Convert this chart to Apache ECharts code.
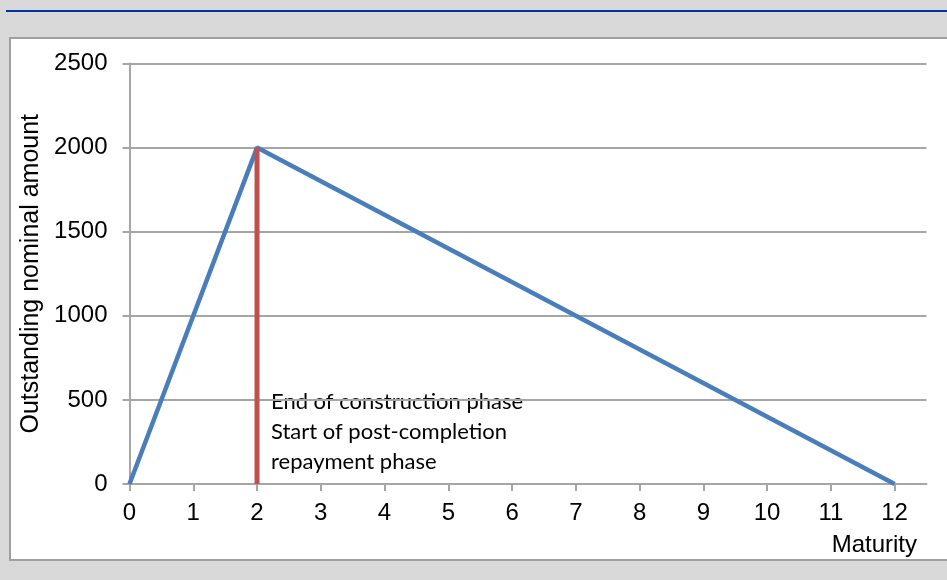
<!DOCTYPE html>
<html>
<head>
<meta charset="utf-8">
<script src="https://cdn.jsdelivr.net/npm/echarts@6/dist/echarts.min.js"></script>
<style>
html, body {
  margin: 0;
  padding: 0;
  width: 947px;
  height: 580px;
  overflow: hidden;
  background: #d9d9d9;
}
.topline {
  position: absolute;
  left: 6px;
  right: 0;
  top: 10px;
  height: 2px;
  background: #0033a0;
}
.panel {
  position: absolute;
  left: 9px;
  top: 37px;
  right: -10px;
  bottom: 19px;
  background: #fff;
  border: 2px solid #a0a0a0;
}
#main {
  position: absolute;
  left: 0;
  top: 0;
  width: 947px;
  height: 580px;
}
</style>
</head>
<body>
<div class="topline"></div>
<div class="panel"></div>
<div id="main"></div>
<script>
// maturity (years) vs outstanding nominal amount
var xTicks = [0, 1, 2, 3, 4, 5, 6, 7, 8, 9, 10, 11, 12]
var amortization = [[0, 0], [2, 2000], [12, 0]]
var constructionEnd = [[2, 0], [2, 2000]]
var noteLines = ['End of construction phase', 'Start of post-completion', 'repayment phase']

var myChart = echarts.init(document.getElementById('main'))
var gridColor = '#a6a6a6'
var font = '"Liberation Sans", Arial, sans-serif'

myChart.setOption({
  backgroundColor: 'transparent',
  animation: false,
  grid: {
    left: 129.5,
    right: 20.5,
    top: 63.5,
    bottom: 96
  },
  xAxis: {
    type: 'value',
    min: 0,
    max: 12.5,
    interval: 1,
    axisLine: { show: true, lineStyle: { color: gridColor, width: 2 } },
    axisTick: { show: true, length: 7, customValues: xTicks, lineStyle: { color: gridColor, width: 2 } },
    axisLabel: { customValues: xTicks, margin: 17, fontSize: 24, color: '#000', fontFamily: font },
    splitLine: { show: false }
  },
  yAxis: {
    type: 'value',
    min: 0,
    max: 2500,
    interval: 500,
    name: 'Outstanding nominal amount',
    nameLocation: 'middle',
    nameGap: 83,
    nameTextStyle: { fontSize: 25, color: '#000', fontFamily: font },
    axisLine: { show: true, lineStyle: { color: gridColor, width: 2 } },
    axisTick: { show: true, length: 7, lineStyle: { color: gridColor, width: 2 } },
    axisLabel: {
      margin: 22,
      fontSize: 24,
      color: '#000',
      fontFamily: font,
      formatter: function (v) { return String(v) }
    },
    splitLine: { show: true, lineStyle: { color: gridColor, width: 2 } }
  },
  graphic: [
    {
      type: 'text',
      right: 30,
      top: 533,
      style: { text: 'Maturity', fontSize: 24, fill: '#000', fontFamily: font }
    },
    {
      type: 'text',
      left: 271,
      top: 387,
      style: {
        text: noteLines.join('\n'),
        fontSize: 22,
        lineHeight: 30,
        fill: '#000',
        fontFamily: 'Lato, "Open Sans", sans-serif'
      }
    }
  ],
  series: [
    {
      name: 'Outstanding',
      type: 'line',
      data: amortization,
      symbol: 'none',
      lineStyle: { color: '#4a7ebb', width: 4.5 }
    },
    {
      name: 'Construction end',
      type: 'line',
      data: constructionEnd,
      symbol: 'none',
      lineStyle: { color: '#c0504d', width: 5 }
    }
  ]
})
window.onresize = myChart.resize
</script>
</body>
</html>
